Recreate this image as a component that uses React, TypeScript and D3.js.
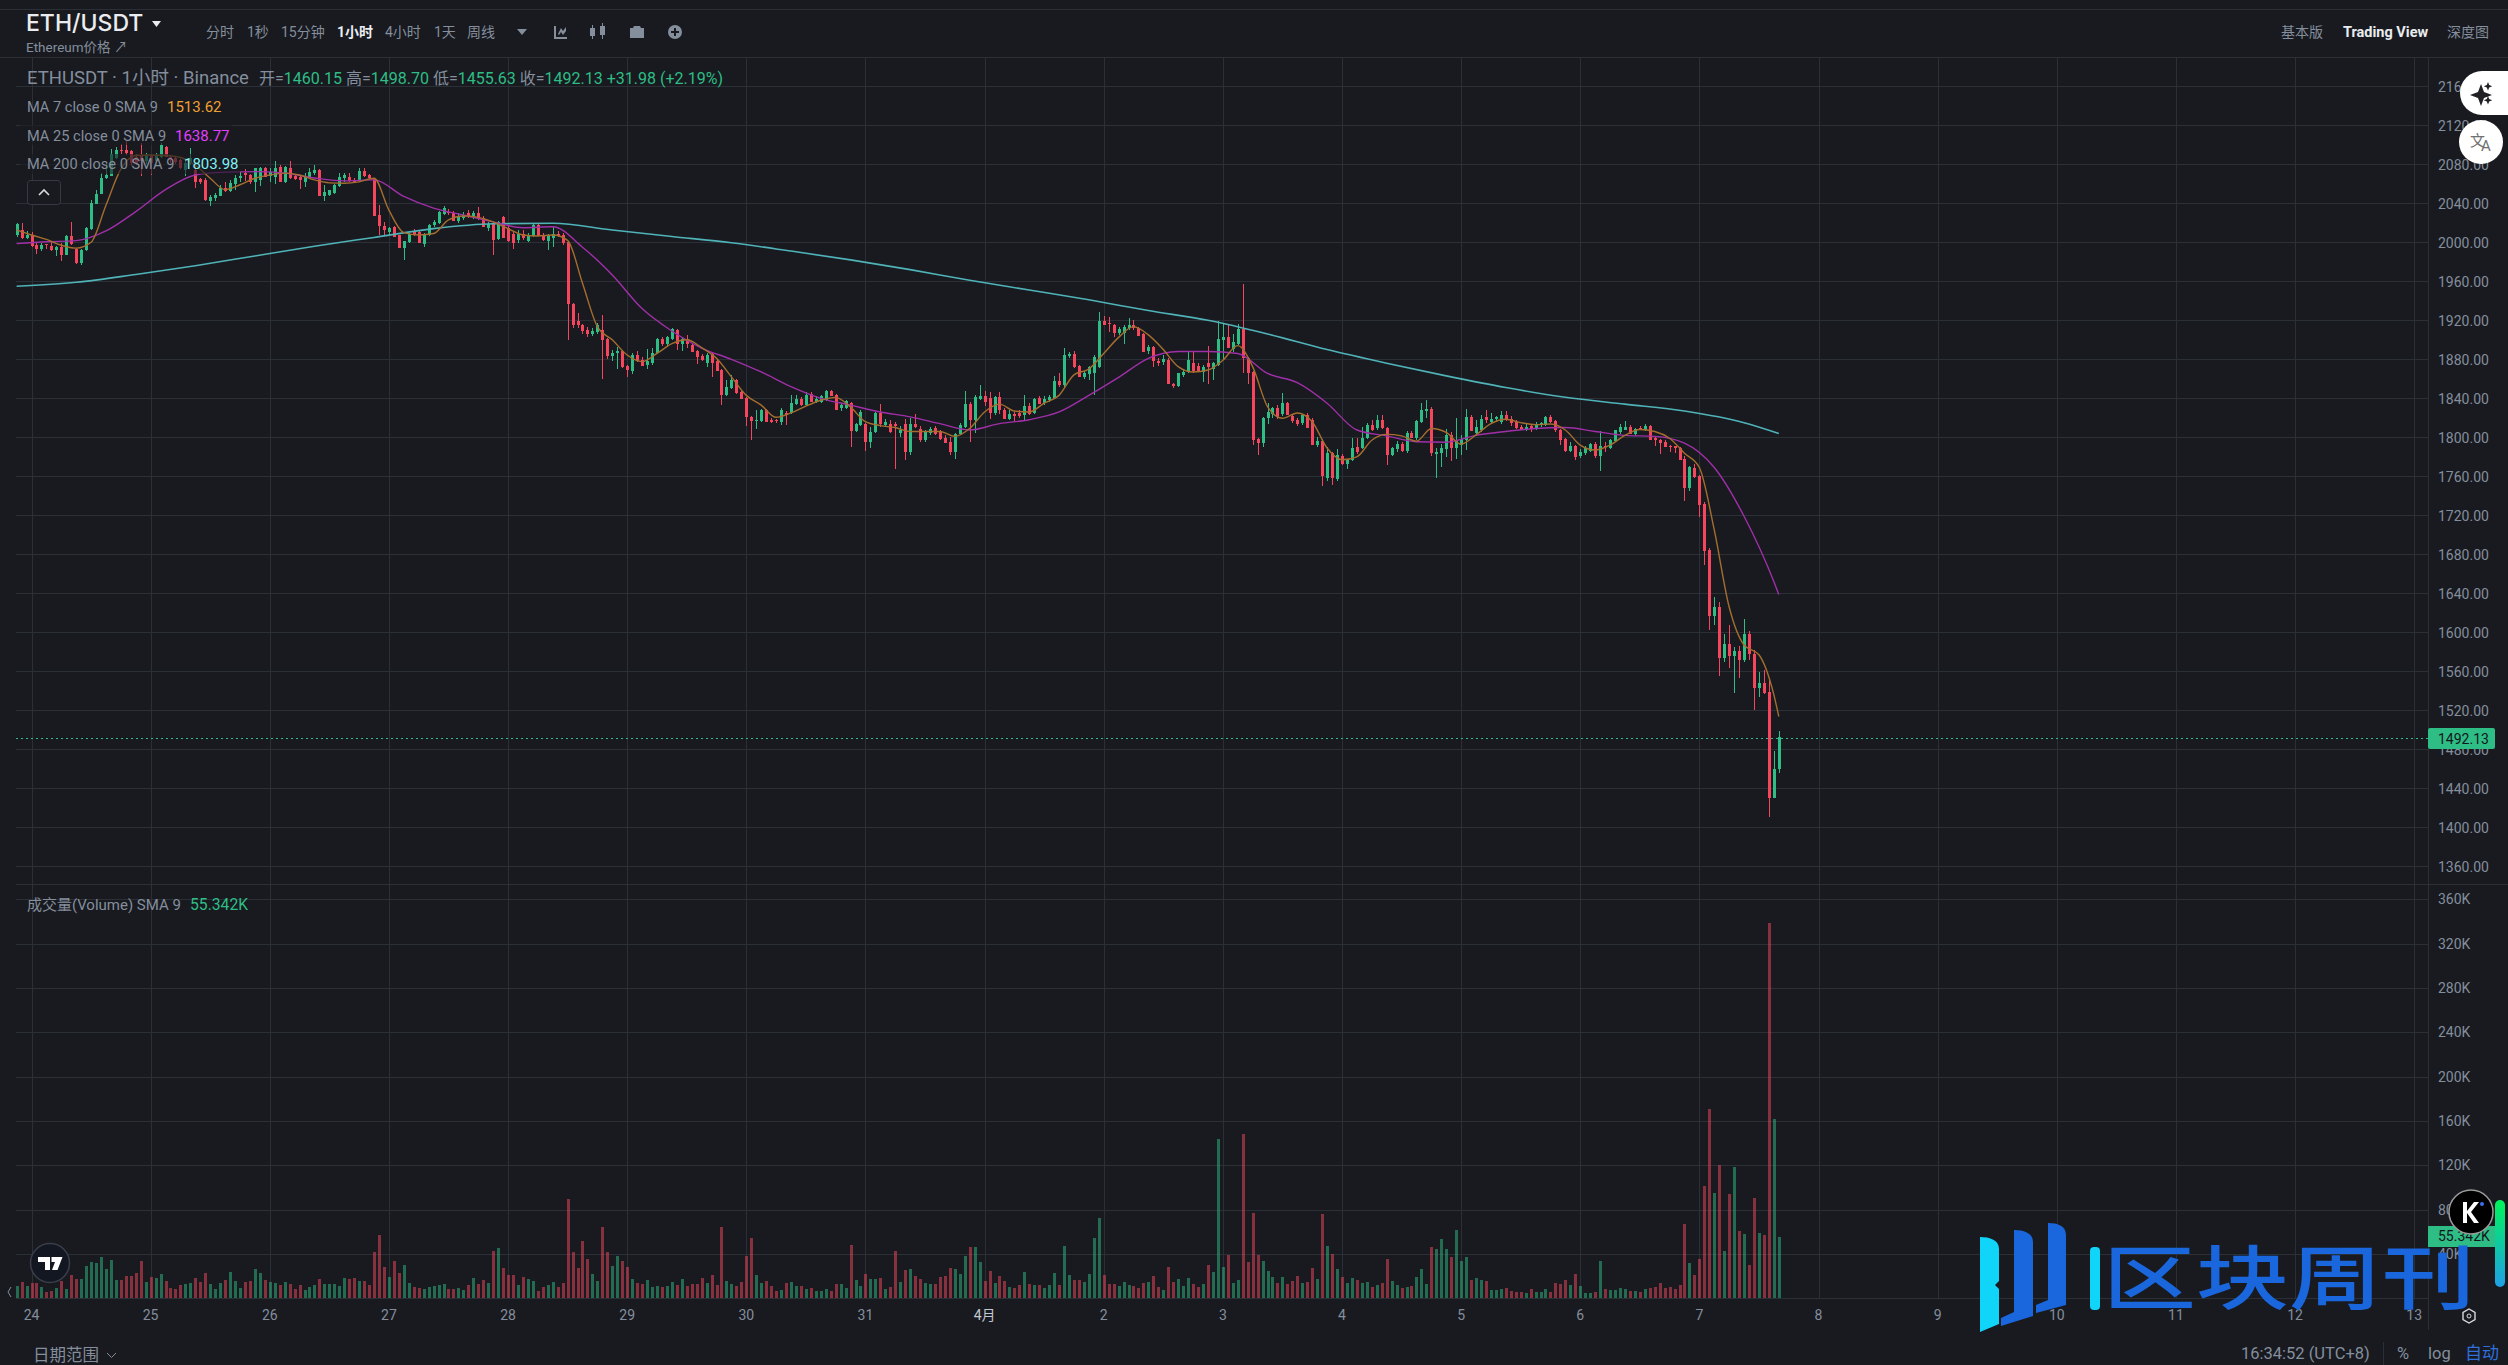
import * as d3 from "d3";

// [open, high, low, close] per hour, one list per day
const mar23 = [[2008,2020,2005,2019],[2013,2020,2003,2004],[2004,2012,2003,2008]];
const mar24 = [[2008,2011,1995,1996],[1997,1999,1988,1993],[1993,1999,1991,1997],[1998,1998,1993,1997],[1996,2001,1991,1992],[1992,1996,1986,1995],[1995,1999,1981,1987],[1987,2007,1987,2006],[2006,2021,1997,1998],[1993,1994,1978,1979],[1979,1993,1977,1992],[1992,2016,1991,2015],[2014,2043,2013,2040],[2039,2054,2039,2050],[2050,2071,2050,2066],[2066,2081,2065,2069],[2068,2096,2068,2091],[2086,2098,2085,2095],[2095,2101,2091,2094],[2095,2104,2090,2092],[2094,2095,2078,2081],[2088,2091,2079,2081],[2090,2102,2068,2083],[2083,2092,2080,2090]];
const mar25 = [[2090,2091,2069,2081],[2083,2092,2082,2089],[2087,2102,2086,2100],[2098,2099,2087,2088],[2088,2090,2081,2084],[2086,2088,2080,2082],[2084,2085,2075,2076],[2074,2086,2068,2081],[2081,2097,2079,2086],[2074,2079,2056,2062],[2065,2066,2060,2062],[2064,2066,2042,2043],[2042,2049,2037,2046],[2045,2051,2042,2049],[2047,2059,2047,2056],[2056,2062,2052,2053],[2053,2064,2052,2061],[2060,2069,2054,2066],[2066,2072,2062,2068],[2071,2075,2063,2069],[2069,2070,2060,2062],[2062,2076,2052,2076],[2064,2077,2058,2076],[2076,2077,2067,2067]];
const mar26 = [[2068,2076,2062,2072],[2067,2083,2060,2076],[2077,2079,2062,2062],[2062,2078,2061,2077],[2076,2083,2065,2066],[2068,2069,2064,2065],[2067,2068,2055,2064],[2062,2071,2057,2067],[2066,2076,2065,2072],[2071,2079,2069,2074],[2074,2075,2048,2048],[2048,2059,2042,2052],[2049,2054,2047,2054],[2051,2060,2050,2059],[2058,2071,2057,2067],[2066,2071,2062,2069],[2067,2071,2062,2063],[2063,2066,2061,2062],[2063,2076,2062,2073],[2073,2076,2067,2068],[2069,2070,2065,2066],[2065,2066,2027,2027],[2028,2038,2007,2017],[2017,2021,2006,2013]];
const mar27 = [[2011,2016,2008,2015],[2016,2017,2005,2005],[2007,2008,1994,1994],[1994,2001,1982,2001],[2000,2010,1999,2009],[2012,2014,2006,2007],[2011,2013,1999,1999],[1998,2010,1995,2009],[2008,2019,2006,2018],[2018,2023,2016,2021],[2020,2032,2019,2031],[2029,2037,2028,2035],[2031,2034,2028,2030],[2030,2032,2022,2022],[2022,2030,2020,2027],[2025,2031,2023,2028],[2030,2033,2025,2027],[2026,2032,2024,2030],[2030,2036,2023,2024],[2025,2027,2016,2016],[2015,2021,2012,2019],[2019,2020,1987,2002],[2003,2022,2002,2021],[2026,2027,2004,2004]];
const mar28 = [[2015,2018,2000,2001],[2009,2012,1993,1999],[2002,2013,1999,2009],[2009,2013,2002,2004],[2001,2010,2000,2007],[2006,2019,2005,2018],[2018,2019,2006,2006],[2007,2010,2001,2002],[2001,2009,1992,2008],[2004,2016,1995,2009],[2009,2012,2005,2006],[2007,2010,1997,1999],[2000,2001,1900,1937],[1937,1938,1912,1915],[1919,1928,1912,1915],[1915,1916,1906,1909],[1910,1913,1903,1906],[1906,1912,1904,1909],[1908,1917,1906,1915],[1910,1925,1860,1900],[1901,1902,1880,1883],[1883,1890,1878,1886],[1886,1893,1870,1889],[1889,1890,1871,1872]];
const mar29 = [[1873,1874,1862,1869],[1868,1886,1865,1884],[1884,1889,1877,1878],[1879,1882,1873,1873],[1874,1891,1870,1878],[1876,1892,1874,1886],[1886,1902,1885,1901],[1901,1903,1894,1896],[1896,1904,1893,1903],[1901,1912,1900,1911],[1910,1911,1890,1896],[1896,1903,1889,1901],[1901,1905,1892,1896],[1895,1896,1887,1888],[1889,1890,1875,1882],[1883,1885,1878,1879],[1876,1886,1872,1884],[1885,1886,1862,1876],[1878,1879,1868,1868],[1869,1870,1833,1843],[1843,1859,1842,1852],[1851,1864,1850,1859],[1859,1860,1844,1845],[1846,1847,1839,1839]];
const mar30 = [[1840,1841,1812,1821],[1821,1822,1797,1817],[1817,1828,1809,1818],[1817,1829,1816,1828],[1828,1829,1816,1816],[1818,1820,1815,1816],[1818,1819,1815,1817],[1816,1830,1813,1828],[1825,1827,1813,1823],[1825,1843,1824,1835],[1834,1843,1833,1839],[1839,1841,1832,1833],[1833,1846,1832,1843],[1844,1846,1836,1836],[1836,1842,1835,1839],[1836,1843,1835,1842],[1838,1849,1837,1847],[1847,1849,1842,1842],[1843,1844,1828,1828],[1830,1834,1827,1833],[1830,1838,1829,1837],[1835,1836,1790,1806],[1806,1815,1805,1814],[1813,1828,1812,1826]];
const mar31 = [[1814,1815,1786,1795],[1795,1811,1789,1805],[1805,1826,1804,1825],[1825,1834,1811,1814],[1813,1819,1811,1816],[1814,1818,1804,1805],[1814,1816,1768,1812],[1804,1812,1800,1808],[1814,1819,1777,1785],[1785,1820,1782,1814],[1814,1824,1810,1811],[1809,1812,1795,1797],[1797,1808,1795,1806],[1804,1811,1802,1809],[1810,1812,1802,1803],[1806,1808,1797,1798],[1799,1802,1794,1794],[1795,1800,1782,1785],[1785,1804,1778,1803],[1803,1815,1802,1813],[1811,1847,1810,1834],[1834,1836,1795,1818],[1818,1843,1804,1841],[1839,1854,1838,1842]];
const apr01 = [[1842,1848,1832,1836],[1840,1846,1819,1825],[1825,1842,1823,1841],[1841,1846,1824,1828],[1828,1830,1819,1819],[1819,1828,1818,1824],[1824,1826,1816,1822],[1825,1828,1820,1822],[1823,1843,1818,1832],[1832,1835,1823,1824],[1825,1840,1824,1839],[1840,1842,1834,1834],[1835,1842,1833,1839],[1838,1843,1836,1841],[1840,1863,1839,1858],[1858,1866,1852,1854],[1854,1892,1852,1884],[1883,1888,1881,1885],[1885,1889,1871,1872],[1873,1874,1862,1862],[1862,1868,1860,1866],[1865,1873,1859,1872],[1866,1884,1843,1882],[1872,1929,1871,1919]];
const apr02 = [[1919,1924,1915,1915],[1917,1923,1908,1916],[1915,1916,1903,1907],[1907,1913,1905,1911],[1907,1915,1896,1913],[1912,1922,1910,1915],[1915,1920,1910,1912],[1912,1913,1904,1904],[1906,1907,1888,1888],[1889,1895,1885,1893],[1893,1894,1872,1878],[1878,1881,1873,1876],[1877,1884,1874,1880],[1879,1881,1855,1855],[1855,1856,1851,1853],[1853,1866,1852,1866],[1864,1870,1862,1867],[1867,1889,1866,1879],[1876,1887,1866,1868],[1873,1876,1867,1868],[1867,1874,1857,1872],[1876,1894,1855,1872],[1870,1877,1859,1876],[1874,1919,1873,1901]];
const apr03 = [[1900,1916,1880,1903],[1903,1915,1892,1892],[1891,1906,1888,1898],[1896,1916,1895,1911],[1911,1957,1866,1881],[1881,1882,1855,1866],[1867,1868,1792,1797],[1798,1799,1782,1794],[1794,1821,1790,1820],[1820,1835,1814,1826],[1824,1831,1820,1830],[1830,1833,1819,1821],[1824,1845,1822,1835],[1835,1836,1823,1823],[1822,1823,1815,1817],[1818,1820,1812,1814],[1815,1824,1813,1823],[1823,1825,1810,1810],[1818,1820,1792,1792],[1792,1800,1790,1796],[1796,1797,1750,1760],[1758,1790,1755,1784],[1784,1785,1751,1758],[1757,1788,1755,1782]];
const apr04 = [[1781,1783,1772,1773],[1773,1778,1767,1777],[1777,1799,1776,1789],[1790,1799,1783,1785],[1789,1811,1788,1799],[1799,1815,1798,1813],[1813,1818,1806,1807],[1810,1823,1808,1818],[1818,1823,1809,1810],[1810,1811,1772,1782],[1782,1790,1781,1789],[1788,1796,1785,1793],[1793,1795,1785,1786],[1786,1806,1784,1804],[1804,1806,1799,1799],[1799,1818,1797,1817],[1816,1835,1815,1828],[1827,1838,1820,1829],[1829,1831,1781,1784],[1783,1789,1758,1785],[1784,1793,1770,1789],[1788,1809,1780,1802],[1802,1805,1776,1789],[1789,1820,1778,1797]];
const apr05 = [[1792,1802,1782,1798],[1797,1829,1787,1821],[1821,1823,1806,1806],[1804,1818,1801,1811],[1807,1823,1805,1819],[1821,1828,1815,1818],[1816,1825,1815,1819],[1819,1822,1816,1821],[1816,1827,1814,1823],[1823,1827,1817,1818],[1819,1822,1812,1815],[1816,1818,1809,1810],[1811,1813,1807,1807],[1807,1814,1806,1811],[1812,1814,1805,1809],[1809,1816,1808,1814],[1813,1816,1811,1815],[1813,1822,1812,1821],[1821,1823,1815,1816],[1817,1818,1805,1807],[1808,1809,1792,1797],[1798,1799,1785,1786],[1786,1795,1785,1791],[1791,1792,1777,1780]];
const apr06 = [[1781,1788,1779,1785],[1784,1791,1782,1789],[1786,1794,1785,1793],[1793,1795,1779,1781],[1781,1806,1765,1791],[1791,1795,1785,1790],[1789,1798,1788,1797],[1796,1807,1795,1807],[1805,1814,1803,1811],[1808,1817,1807,1811],[1811,1813,1803,1803],[1803,1810,1801,1809],[1810,1812,1807,1808],[1808,1814,1806,1812],[1812,1813,1797,1797],[1799,1801,1791,1797],[1797,1798,1783,1794],[1795,1797,1790,1790],[1791,1792,1785,1790],[1791,1791,1784,1789],[1789,1790,1777,1777],[1778,1781,1735,1748],[1748,1771,1745,1770],[1769,1773,1758,1759]];
const apr07 = [[1760,1761,1718,1731],[1732,1734,1669,1683],[1684,1686,1602,1617],[1617,1636,1608,1626],[1626,1631,1555,1574],[1574,1598,1570,1588],[1588,1608,1563,1576],[1576,1585,1538,1581],[1581,1586,1553,1572],[1572,1614,1570,1598],[1598,1601,1572,1578],[1578,1582,1520,1543],[1543,1559,1534,1548],[1548,1561,1537,1538],[1539,1552,1411,1430],[1430,1478,1430,1460],[1460.15,1498.7,1455.63,1492.13]];

// hourly volume in thousands, same order as the candles
const volumes = [
  11.5,14.8,11.2,
  13.9,13.9,10.3,5.8,6.7,9.4,15.8,8.5,21.2,17.6,17.6,29.4,33,32.1,37.6,26.7,34.8,16.7,16.7,20.3,20.3,23,33.9,14.8,
  19.4,18.5,22.1,15.8,9.4,8.5,12.1,13,13.9,18.5,14.8,23,13,8.5,13.9,16.7,23.9,15.8,9.4,14.8,15.8,26.7,23,16.7,
  14.8,13.9,12.1,14.8,13,8.5,12.1,7.6,10.3,12.1,17.6,13,13,13,11.2,18.5,17.6,18.5,15.8,15.8,12.1,42.1,56.7,28.5,
  19.4,33.9,23,30.3,13.9,10.3,9.4,8.5,10.3,11.2,12.1,13,8.5,8.5,9.4,7.6,12.1,18.5,13,16.7,13.9,43,45.8,27.6,
  21.2,21.2,12.1,19.4,17.6,15.8,6.7,10.3,12.1,14.8,10.3,13.9,89.4,42.1,27.6,52.1,35.8,22.1,15.8,63.9,42.1,29.4,38.5,33.9,
  28.5,17.6,13.9,13,16.7,10.3,11.2,10.3,11.2,14.8,12.1,17.6,11.2,13,13,18.5,13.9,21.2,12.1,63.9,15.8,13,11.2,14.8,
  38.5,54.8,21.2,13.9,15.8,11.2,6.7,7.6,13.9,14.8,11.2,11.2,8.5,9.4,6.7,6.7,8.5,6.7,13,13,9.4,48.5,16.7,11.2,
  22.1,17.6,17.6,18.5,8.5,10.3,43,14.8,25.8,26.7,20.3,17.6,13.9,13,13,19.4,20.3,27.6,26.7,22.1,38.5,46.7,46.7,33,
  15.8,24.8,13.9,20.3,15.8,10.3,9.4,12.1,23.9,13,12.1,12.1,9.4,12.1,23,12.1,47.6,21.2,16.7,16.7,14.8,22.1,54.8,72.1,
  21.2,13,13,11.2,14.8,12.1,11.2,9.4,13.9,14.8,20.3,10.3,7.6,28.5,14.8,17.6,11.2,18.5,13,10.3,13,30.3,23.9,143.9,
  28.5,39.4,13.9,16.7,148.5,33,76.7,39.4,33.9,24.8,19.4,13.9,19.4,13,15.8,20.3,13.9,14.8,27.6,17.6,75.8,47.6,40.3,26.7,
  19.4,13.9,18.5,16.7,13.9,14.8,10.3,12.1,13.9,35.8,15.8,12.1,9.4,10.3,11.2,19.4,26.7,13,46.7,44.8,53.9,44.8,37.6,61.2,
  33.9,37.6,16.7,18.5,16.7,15.8,7.6,7.6,8.5,9.4,6.7,5.8,5.8,4.8,8.5,5.8,5.8,8.5,5.8,13.9,13,16.7,12.1,22.1,
  11.2,4.8,4.8,5.8,33.9,8.5,7.6,7.6,9.4,8.5,6.7,6.7,5.8,8.5,9.4,10.3,13.9,9.4,10.3,8.5,12.1,66.7,32.1,21.2,
  35.8,101.5,171.2,94.8,120.3,43,93.9,118.2,60.3,57.6,30.3,90.3,58.5,56.7,338.5,162.1,55.342,
];

// moving averages read every 3 / 6 / 12 candles, last value is the latest candle
const ma7 = [2012.7,2007.5,2003,1997,1994,2000,2038,2075,2089,2089.6,2089,2087,2079,2065.7,2054,2059,2065.7,2069,2071,2069,2064,2061,2060.5,2062,2065.7,2033,2010,2007.5,2009,2023,2027,2025.6,2021,2014,2007.5,2006.5,2007.5,2002,1958,1913.5,1900,1884.4,1877.6,1886,1896,1900,1892,1881,1862,1843,1833,1820.5,1825,1832,1838,1841,1831,1816,1812,1810,1806,1806,1806,1801,1809,1826,1834,1827,1826,1835,1843,1864,1870,1886,1902.5,1913.5,1905,1890,1872.5,1867,1869,1879,1894,1872.5,1831.5,1819.5,1825,1816,1789,1777,1780,1797,1803,1801.5,1796,1809,1805,1793,1802.5,1814,1818.5,1815,1813,1813.6,1807.5,1792,1787,1792,1802,1808,1806,1799,1783.6,1769,1705,1626,1587,1577,1536,1513.62];
const ma25 = [1998.6,2000.5,2001.7,2011.6,2031.5,2054,2069,2072,2072.5,2071,2066,2063,2064,2047,2035,2028,2021,2015,2016,1995,1966.5,1932,1909,1891.5,1880,1867,1852,1840,1833,1826,1821,1814,1807.5,1814,1818,1826,1843,1861.5,1881,1888,1888,1886,1865.5,1856,1835,1807.5,1801.5,1795.5,1795,1802,1806,1809,1810,1806,1802,1801,1794,1769,1719,1652,1638.77];
const ma200 = [1955,1959,1967,1976,1986,1996,2005,2014,2019,2019.5,2012.6,2006,1999.5,1991,1982,1972,1961,1951,1941,1930,1920,1906,1890,1876,1863,1851,1841,1834,1827,1815,1803.98];

const priceTicks = [2160,2120,2080,2040,2000,1960,1920,1880,1840,1800,1760,1720,1680,1640,1600,1560,1520,1480,1440,1400,1360];
const volumeTicks = [360,320,280,240,200,160,120,80,40];
const dayLabels = ["24","25","26","27","28","29","30","31","4月","2","3","4","5","6","7","8","9","10","11","12","13"];
const intervals = ["分时","1秒","15分钟","1小时","4小时","1天","周线"];

const candles = [mar23,mar24,mar25,mar26,mar27,mar28,mar29,mar30,mar31,apr01,apr02,apr03,apr04,apr05,apr06,apr07].flat();
const lastIndex = candles.length - 1;
const lastClose = candles[lastIndex][3];

const UP = "#2EBD85";
const DOWN = "#F6465D";
const BG = "#181A20";
const GRID = "#2B2F36";
const MUTED = "#848E9C";
const FONT = "Roboto, 'Noto Sans CJK SC', sans-serif";

const width = 2508;
const height = 1365;
const left = 16;
const axisX = 2428;
const paneTop = 57;
const paneSplit = 884;
const paneBottom = 1298;

const x = d3.scaleLinear([3, 355], [31.5, 1778.8]);
const yPrice = d3.scaleLinear([1360, 2160], [866.3, 86.3]);
const yVolume = d3.scaleLinear([0, 360], [1298.3, 899.3]);

const maLine = (values: number[], step: number) =>
  d3
    .line<number>()
    .x((d, i) => x(i === values.length - 1 ? lastIndex : i * step))
    .y((d) => yPrice(d))
    .curve(d3.curveMonotoneX)(values) as string;

const dayIndex = (i: number) => 3 + i * 24;

const App = () => {
  return (
    <svg
      width={width}
      height={height}
      viewBox={`0 0 ${width} ${height}`}
      style={{ position: "fixed", left: 0, top: 0, background: BG, fontFamily: FONT }}
    >
      <rect width={width} height={height} fill={BG} />

      {/* header */}
      <g shapeRendering="crispEdges" stroke={GRID}>
        <line x1={0} x2={width} y1={9.5} y2={9.5} />
        <line x1={0} x2={width} y1={57.5} y2={57.5} />
      </g>
      <text x={26} y={31} fontSize={23} fontWeight={500} fill="#EAECEF" fontFamily="Inter, sans-serif">ETH/USDT</text>
      <path d="M152 21h9l-4.5 6z" fill="#EAECEF" />
      <text x={26} y={52} fontSize={13.5} fill={MUTED}>Ethereum价格 ↗</text>
      {intervals.map((d, i) => (
        <text
          key={d}
          x={[206, 247, 281, 337, 385, 434, 467][i]}
          y={37}
          fontSize={14}
          fontWeight={d === "1小时" ? 700 : 400}
          fill={d === "1小时" ? "#EAECEF" : MUTED}
        >
          {d}
        </text>
      ))}
      <path d="M517 29h10l-5 6z" fill={MUTED} />
      <g fill={MUTED} stroke="none">
        <path d="M554 26h2v11h11v2h-13z M558 34l3-6 2 3 3-4v4l-3 4-2-3-2 3z" />
        <path d="M590 28h5v8h-5z M592 25h1v14h-1z M600 26h5v9h-5z M602 23h1v16h-1z" />
        <path d="M630 28h3l1-2h6l1 2h3v10h-14z" />
        <circle cx={675} cy={32} r={7} />
      </g>
      <path d="M675 28v8M671 32h8" stroke={BG} strokeWidth={2} />
      <text x={2281} y={37} fontSize={14} fill={MUTED}>基本版</text>
      <text x={2343} y={37} fontSize={14.5} fontWeight={700} fill="#EAECEF">Trading View</text>
      <text x={2447} y={37} fontSize={14} fill={MUTED}>深度图</text>

      {/* grid */}
      <g stroke={GRID} shapeRendering="crispEdges">
        {priceTicks.map((d) => (
          <line key={d} x1={left} x2={axisX} y1={Math.round(yPrice(d)) + 0.5} y2={Math.round(yPrice(d)) + 0.5} />
        ))}
        {volumeTicks.map((d) => (
          <line key={d} x1={left} x2={axisX} y1={Math.round(yVolume(d)) + 0.5} y2={Math.round(yVolume(d)) + 0.5} />
        ))}
        {dayLabels.map((d, i) => (
          <line key={d} x1={Math.round(x(dayIndex(i))) + 0.5} x2={Math.round(x(dayIndex(i))) + 0.5} y1={paneTop} y2={paneBottom} />
        ))}
        <line x1={left} x2={width} y1={paneSplit + 0.5} y2={paneSplit + 0.5} />
        <line x1={left} x2={axisX} y1={paneBottom + 0.5} y2={paneBottom + 0.5} />
        <line x1={axisX + 0.5} x2={axisX + 0.5} y1={paneTop} y2={1330} />
        <line x1={2383.5} x2={2383.5} y1={1342} y2={height} />
      </g>

      {/* volume */}
      <g opacity={0.5} shapeRendering="crispEdges">
        {volumes.map((v, i) => (
          <rect
            key={i}
            x={Math.round(x(i)) - 1}
            y={yVolume(v)}
            width={3}
            height={yVolume(0) - yVolume(v)}
            fill={candles[i][3] >= candles[i][0] ? UP : DOWN}
          />
        ))}
      </g>

      {/* candles */}
      <g shapeRendering="crispEdges">
        {candles.map(([o, h, l, c], i) => {
          const color = c >= o ? UP : DOWN;
          const cx = Math.round(x(i));
          const top = yPrice(Math.max(o, c));
          return (
            <g key={i} fill={color}>
              <rect x={cx} y={yPrice(h)} width={1} height={yPrice(l) - yPrice(h)} />
              <rect x={cx - 1} y={top} width={3} height={Math.max(1, yPrice(Math.min(o, c)) - top)} />
            </g>
          );
        })}
      </g>

      {/* moving averages */}
      <g fill="none" strokeWidth={1.4}>
        <path d={maLine(ma200, 12)} stroke="#4FB3B8" strokeWidth={1.6} />
        <path d={maLine(ma25, 6)} stroke="#A02FA8" />
        <path d={maLine(ma7, 3)} stroke="#A56E2E" />
      </g>

      {/* last price line */}
      <line
        x1={left}
        x2={axisX}
        y1={738.5}
        y2={738.5}
        stroke={UP}
        strokeWidth={1}
        strokeDasharray="2 3"
        shapeRendering="crispEdges"
      />

      {/* axes */}
      <g fontSize={14} fill={MUTED}>
        {priceTicks.map((d) => (
          <text key={d} x={2438} y={yPrice(d) + 5.5}>
            {d3.format(".2f")(d)}
          </text>
        ))}
        {volumeTicks.map((d) => (
          <text key={d} x={2438} y={yVolume(d) + 5}>
            {d}K
          </text>
        ))}
        {dayLabels.map((d, i) => (
          <text
            key={d}
            x={x(dayIndex(i))}
            y={1320}
            textAnchor="middle"
            fill={d === "4月" ? "#C4C8D0" : MUTED}
          >
            {d}
          </text>
        ))}
      </g>
      <rect x={axisX} y={728} width={67} height={21} rx={2} fill={UP} />
      <text x={2438} y={743.5} fontSize={14} fill="#12161c">{d3.format(".2f")(lastClose)}</text>
      <rect x={axisX} y={1226} width={67} height={21} fill={UP} />
      <text x={2438} y={1241} fontSize={14} fill="#12161c">55.342K</text>

      {/* legend */}
      <g fill={BG} opacity={0.6}>
        <rect x={20} y={125} width={212} height={20} />
        <rect x={20} y={154} width={220} height={20} />
      </g>
      <text x={27} y={84} fontSize={18.5} fill={MUTED}>ETHUSDT · 1小时 · Binance</text>
      <text x={259} y={84} fontSize={16} fill={UP}>
        <tspan fill={MUTED}>开=</tspan>1460.15 <tspan fill={MUTED}>高=</tspan>1498.70 <tspan fill={MUTED}>低=</tspan>1455.63 <tspan fill={MUTED}>收=</tspan>1492.13 +31.98 (+2.19%)
      </text>
      <text x={27} y={112} fontSize={14.6} fill={MUTED}>MA 7 close 0 SMA 9</text>
      <text x={167} y={112} fontSize={15} fill="#F0A030">1513.62</text>
      <text x={27} y={141} fontSize={14.6} fill={MUTED}>MA 25 close 0 SMA 9</text>
      <text x={175} y={141} fontSize={15} fill="#E040FB">1638.77</text>
      <text x={27} y={169} fontSize={14.6} fill={MUTED}>MA 200 close 0 SMA 9</text>
      <text x={184} y={169} fontSize={15} fill="#80F0F5">1803.98</text>
      <rect x={27.5} y={180.5} width={33} height={24} rx={3} fill={BG} stroke="#363A45" />
      <path d="M39 195l5-5 5 5" fill="none" stroke="#D8DAE0" strokeWidth={1.6} />
      <text x={27} y={910} fontSize={15} fill={MUTED}>成交量(Volume) SMA 9</text>
      <text x={190} y={910} fontSize={15.7} fill={UP}>55.342K</text>

      {/* footer */}
      <text x={33} y={1361} fontSize={16.5} fill={MUTED}>日期范围</text>
      <path d="M107 1353l4.5 4.5 4.5-4.5" fill="none" stroke={MUTED} />
      <text x={2241} y={1359} fontSize={16.5} fill={MUTED}>16:34:52 (UTC+8)</text>
      <text x={2397} y={1359} fontSize={16.5} fill={MUTED}>%</text>
      <text x={2428} y={1359} fontSize={16.5} fill={MUTED}>log</text>
      <text x={2465} y={1359} fontSize={17} fill="#2F6FDE">自动</text>
      <path d="M2469 1309l6 3.5v7l-6 3.5-6-3.5v-7z" fill="none" stroke="#D8DAE0" strokeWidth={1.4} />
      <circle cx={2469} cy={1316} r={2} fill="none" stroke="#D8DAE0" />
      <path d="M11 1287l-3 5 3 5" fill="none" stroke={MUTED} />

      {/* tradingview badge */}
      <circle cx={50} cy={1263} r={19.5} fill="#131722" stroke="#3A3E4A" strokeWidth={1.5} />
      <path d="M38 1257h12v13h-5v-8h-7z M51.5 1257h11l-5 13h-5.5l3-8h-3.5z" fill="#fff" />

      {/* floating buttons */}
      <path d="M2508 71h-26a22 22 0 0 0 0 44h26z" fill="#fff" />
      <path d="M2481 84l3 8 8 3-8 3-3 8-3-8-8-3 8-3z M2488 82l1.2 3 3 1.2-3 1.2-1.2 3-1.2-3-3-1.2 3-1.2z M2488 96l1.2 3 3 1.2-3 1.2-1.2 3-1.2-3-3-1.2 3-1.2z" fill="#202124" />
      <circle cx={2481} cy={142} r={22} fill="#fff" />
      <text x={2470} y={146} fontSize={15} fill="#707070">文</text>
      <text x={2481} y={151} fontSize={15} fill="#707070">A</text>

      {/* watermark */}
      <defs>
        <linearGradient id="scroll" x1={0} x2={0} y1={0} y2={1}>
          <stop offset={0.05} stopColor="#00F060" />
          <stop offset={1} stopColor="#1EA0E8" />
        </linearGradient>
      </defs>
      <rect x={2495} y={1200} width={10} height={87} rx={5} fill="url(#scroll)" />
      <circle cx={2471} cy={1212} r={22} fill="#000" stroke="#9A9A9A" strokeWidth={1.5} />
      <path d="M2463 1202h4v9l7-9h5l-8 10 8 11h-5l-7-10v10h-4z" fill="#fff" />
      <circle cx={2482} cy={1204} r={2} fill="#3C6CF0" />
      <path d="M1980 1237c10 0 19 3 19 12v32l-4 4 4 4v35l-19 8z" fill="#10D4F8" />
      <path d="M2014 1230c10 0 19 3 19 12v74l-32 10v-8l13-6z" fill="#1A66DC" />
      <path d="M2048 1223c10 0 18 3 18 12v70l-30 8v-8l12-5z" fill="#1A66DC" />
      <text
        x={2103}
        y={1304}
        fontSize={70}
        fontWeight={500}
        fill="#1A66DC"
        textLength={372}
        lengthAdjust="spacingAndGlyphs"
        fontFamily="'Noto Sans CJK SC', sans-serif"
      >
        区块周刊
      </text>
      <rect x={2090} y={1247} width={10} height={63} rx={4} fill="#10D4F8" />
    </svg>
  );
};

export default App;
